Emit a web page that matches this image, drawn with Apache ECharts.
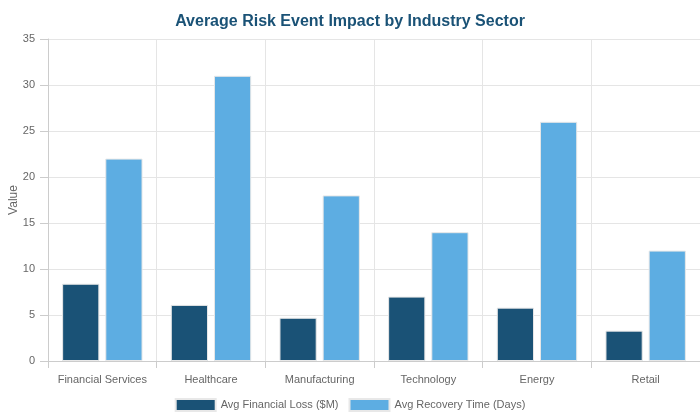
<!DOCTYPE html>
<html>
<head>
<meta charset="utf-8">
<script src="https://cdn.jsdelivr.net/npm/echarts@6/dist/echarts.min.js"></script>
<style>
  html, body { margin: 0; padding: 0; background: #fff; }
  #chart { width: 700px; height: 420px; }
</style>
</head>
<body>
<div id="chart"></div>
<script>
const categories = ['Financial Services', 'Healthcare', 'Manufacturing', 'Technology', 'Energy', 'Retail'];
const financialLoss = [8.4, 6.1, 4.7, 7.0, 5.8, 3.3];
const recoveryTime = [22, 31, 18, 14, 26, 12];

const chart = echarts.init(document.getElementById('chart'));

const option = {
  animation: false,
  title: {
    text: 'Average Risk Event Impact by Industry Sector',
    left: 'center',
    top: 9,
    textStyle: {
      fontFamily: 'Liberation Sans, Arial, sans-serif',
      fontSize: 16,
      fontWeight: 'bold',
      color: '#1a5276'
    }
  },
  legend: {
    bottom: 3,
    left: 'center',
    icon: 'rect',
    itemWidth: 40,
    itemHeight: 12,
    itemGap: 10,
    textStyle: {
      fontFamily: 'Liberation Sans, Arial, sans-serif',
      fontSize: 11,
      color: '#666'
    },
    data: ['Avg Financial Loss ($M)', 'Avg Recovery Time (Days)']
  },
  grid: {
    left: 48,
    right: 0,
    top: 39,
    bottom: 59,
    outerBoundsMode: 'none'
  },
  xAxis: {
    type: 'category',
    data: categories,
    axisLine: { lineStyle: { color: '#ccc' } },
    axisTick: { show: true, length: 7, interval: 0, lineStyle: { color: '#ccc' } },
    axisLabel: {
      interval: 0,
      fontFamily: 'Liberation Sans, Arial, sans-serif',
      fontSize: 11,
      color: '#666',
      margin: 13
    },
    splitLine: { show: true, interval: 0, lineStyle: { color: '#e5e5e5' } }
  },
  yAxis: {
    type: 'value',
    min: 0,
    max: 35,
    interval: 5,
    name: 'Value',
    nameLocation: 'middle',
    nameGap: 28,
    nameMoveOverlap: false,
    nameTextStyle: {
      fontFamily: 'Liberation Sans, Arial, sans-serif',
      fontSize: 12,
      color: '#666'
    },
    axisLine: { show: true, lineStyle: { color: '#ccc' } },
    axisTick: { show: true, length: 8, lineStyle: { color: '#ccc' } },
    axisLabel: {
      fontFamily: 'Liberation Sans, Arial, sans-serif',
      fontSize: 11,
      color: '#666',
      margin: 13
    },
    splitLine: { lineStyle: { color: '#e5e5e5' } }
  },
  series: [
    {
      name: 'Avg Financial Loss ($M)',
      type: 'bar',
      data: financialLoss,
      barGap: '16%',
      barCategoryGap: '26%',
      itemStyle: { color: '#1a5276', borderColor: '#e8e8e8', borderWidth: 1 }
    },
    {
      name: 'Avg Recovery Time (Days)',
      type: 'bar',
      data: recoveryTime,
      barGap: '16%',
      barCategoryGap: '26%',
      itemStyle: { color: '#5dade2', borderColor: '#e8e8e8', borderWidth: 1 }
    }
  ]
};

chart.setOption(option);
</script>
</body>
</html>
